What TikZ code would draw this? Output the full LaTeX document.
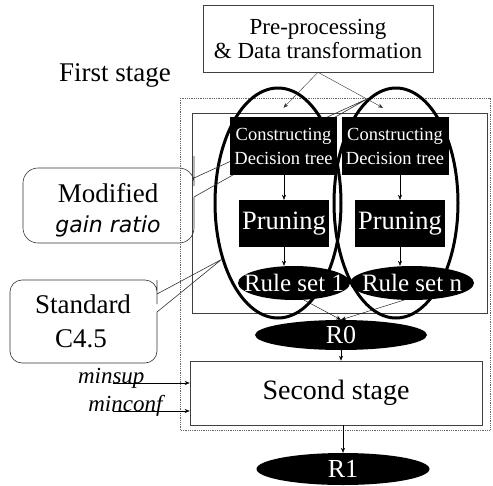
\documentclass[tikz,border=0pt]{standalone}
\usepackage{fontspec}
\setmainfont{Liberation Serif}
\newfontfamily\gainfont{DejaVu Sans}
\usetikzlibrary{shapes.geometric,arrows.meta}

\tikzset{
  fs/.style={font=\fontsize{#1}{#1}\selectfont},
  arr/.style={-{Stealth[length=5pt,width=4pt]}},
  thinbox/.style={draw=black!75,line width=0.6pt},
  callout/.style={draw=black!80,line width=0.6pt},
  blackbox/.style={fill=black,text=white,inner sep=0pt,align=center},
  oval/.style={ellipse,fill=black,text=white,inner sep=0pt},
  stageoval/.style={ellipse,draw,line width=3pt,inner sep=0pt},
}

\begin{document}
\begin{tikzpicture}[x=1pt,y=-1pt]
\useasboundingbox (0,0) rectangle (493,485);
% frames of the first stage
\draw[black!60,densely dotted,line width=0.8pt] (180,98) rectangle (490,430);
\draw[thinbox] (192,113) rectangle (487,313);

\node[thinbox,minimum width=230pt,minimum height=67pt,inner sep=0pt,align=center,
  font=\fontsize{23}{24}\selectfont] (pre) at (318,38.5) {Pre-processing\\\& Data transformation};
\node[fs=27] (first) at (115,75) {First stage};

% the two runs
\node[stageoval,minimum width=126pt,minimum height=230pt] (e1) at (278,203) {};
\node[stageoval,minimum width=124pt,minimum height=230pt] (e2) at (396,203) {};

% callouts
\draw[callout] (e2.105) -- (194,197) -- (194,200) [rounded corners=15pt] -- (194,243) -- (23,243)
  -- (23,168) -- (194,168) -- (194,171) [sharp corners] -- (194,178) -- cycle;
\node[fs=27] (modif) at (108,193) {Modified};
\node[font=\gainfont\itshape\fontsize{22}{22}\selectfont] (gain) at (108,226) {gain ratio};
\draw[callout] (e1.225) -- (157,312) -- (157,315) [rounded corners=12pt] -- (157,363) -- (10,363)
  -- (10,280) -- (157,280) -- (157,292) [sharp corners] -- (157,294) -- cycle;
\node[fs=27] (std) at (83,304) {Standard};
\node[fs=27] (cfour) at (81,339) {C4.5};

\node[blackbox,minimum width=107pt,minimum height=58pt,font=\fontsize{18.5}{24}\selectfont] (c1) at (283.5,146) {Constructing\\Decision tree};
\node[blackbox,minimum width=107pt,minimum height=58pt,font=\fontsize{18.5}{24}\selectfont] (c2) at (395,146) {Constructing\\Decision tree};
\node[blackbox,minimum width=90pt,minimum height=47pt,fs=26.5] (p1) at (284,223.5) {Pruning};
\node[blackbox,minimum width=90pt,minimum height=47pt,fs=26.5] (p2) at (400,223.5) {Pruning};
\node[oval,minimum width=112pt,minimum height=34pt,label={[fs=25,text=white]center:Rule set 1}] (r1) at (294,283) {};
\node[oval,minimum width=124pt,minimum height=34pt,label={[fs=25,text=white]center:Rule set n}] (rn) at (412,283) {};

\node[oval,minimum width=172pt,minimum height=30pt,fs=26] (r0) at (341,335) {R0};
\node[thinbox,minimum width=292pt,minimum height=64pt,fs=28] (second) at (336,393) {Second stage};
\node[oval,minimum width=173pt,minimum height=32pt,fs=26] (rone) at (343,469) {R1};

\draw[arr,black!80] (pre.south) -- ([yshift=9pt]c1.north);
\draw[arr,black!80] (pre.south) -- ([xshift=-12pt,yshift=9pt]c2.north);
\draw[arr] (p1.north |- c1.south) -- (p1.north);
\draw[arr] (p2.north |- c2.south) -- (p2.north);
\draw[arr] (p1.south) -- (p1.south |- r1.north);
\draw[arr] (p2.south) -- (p2.south |- rn.north);
\draw[arr] (r1.-60) -- (r0.north);
\draw[arr] (rn.-115) -- (r0.north);
\draw[arr] (r0.south) -- (r0.south |- second.north);
\draw[arr] (rone.north |- second.south) -- (rone.north);

% thresholds for the second stage
\coordinate (ms) at (113,383);
\coordinate (mc) at (113,411);
\node[anchor=base east,font=\fontsize{23}{23}\selectfont\itshape] (mslabel) at (148,383) {minsup};
\node[anchor=base east,font=\fontsize{23}{23}\selectfont\itshape] (mclabel) at (166,411) {minconf};
\draw[arr] (ms) -- (ms -| second.west);
\draw[arr] (mc) -- (mc -| second.west);
\end{tikzpicture}
\end{document}
